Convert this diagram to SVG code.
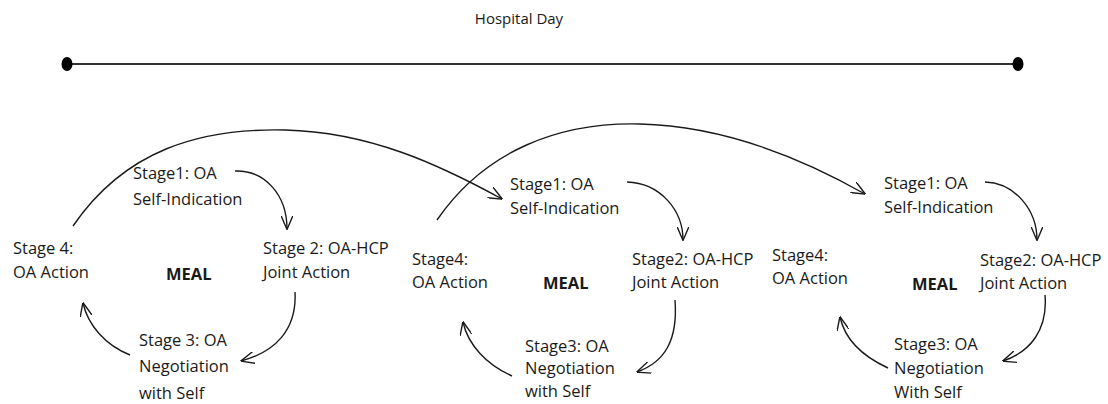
<svg xmlns="http://www.w3.org/2000/svg" width="1108" height="404" viewBox="0 0 1108 404">
  <style>
    text { font-family: "Open Sans", "Noto Sans", "Liberation Sans", sans-serif; fill: #1a1a1a; }
    .lbl { font-size: 16.5px; }
    .meal { font-size: 16.5px; font-weight: bold; }
    .title { font-size: 15px; }
    .conn { fill: none; stroke: #1a1a1a; stroke-width: 1.4; }
    .tl { stroke: #333; stroke-width: 2; }
  </style>
  <defs>
    <marker id="open" markerUnits="userSpaceOnUse" viewBox="0 0 14 12" refX="13.5" refY="6" markerWidth="14" markerHeight="12" orient="auto">
      <path d="M0,0 L14,6 L0,12" fill="none" stroke="#1a1a1a" stroke-width="1.4"/>
    </marker>
  </defs>
  <rect width="1108" height="404" fill="#ffffff"/>

  <!-- timeline -->
  <g id="timeline">
    <text class="title" x="519" y="24" text-anchor="middle">Hospital Day</text>
    <line class="tl" x1="67" y1="64" x2="1018" y2="64"/>
    <ellipse cx="67" cy="64" rx="5.5" ry="7" fill="#000"/>
    <ellipse cx="1018" cy="64" rx="5.5" ry="7" fill="#000"/>
  </g>

  <!-- connectors -->
  <g id="connectors" class="conn">
    <!-- meal 1 cycle -->
    <path d="M235,171 C265,170 287,195 287,229" marker-end="url(#open)"/>
    <path d="M295,292 C297,330 275,352 241,361" marker-end="url(#open)"/>
    <path d="M130,355 C105,345 88,325 83,303" marker-end="url(#open)"/>
    <!-- meal 2 cycle -->
    <path d="M627,182 C660,183 683,210 683,240" marker-end="url(#open)"/>
    <path d="M675,300 C678,340 665,362 637,372" marker-end="url(#open)"/>
    <path d="M512,376 C487,365 468,345 463,322" marker-end="url(#open)"/>
    <!-- meal 3 cycle -->
    <path d="M985,182 C1015,183 1037,210 1037,240" marker-end="url(#open)"/>
    <path d="M1045,295 C1048,330 1030,352 1003,361" marker-end="url(#open)"/>
    <path d="M888,368 C862,356 845,340 840,317" marker-end="url(#open)"/>
    <!-- links between meals -->
    <path d="M73,226 C125,150 200,128 285,130 C370,132 440,165 502,199" marker-end="url(#open)"/>
    <path d="M437,220 C485,150 560,122 640,124 C725,126 805,160 865,194" marker-end="url(#open)"/>
  </g>

  <!-- meal 1 -->
  <g id="m1-stage1"><text class="lbl"><tspan x="133" y="179">Stage1: OA</tspan><tspan x="133" y="205">Self-Indication</tspan></text></g>
  <g id="m1-stage2"><text class="lbl"><tspan x="263" y="254">Stage 2: OA-HCP</tspan><tspan x="263" y="278">Joint Action</tspan></text></g>
  <g id="m1-stage3"><text class="lbl"><tspan x="139" y="346">Stage 3: OA</tspan><tspan x="139" y="372">Negotiation</tspan><tspan x="139" y="399">with Self</tspan></text></g>
  <g id="m1-stage4"><text class="lbl"><tspan x="13" y="254">Stage 4:</tspan><tspan x="13" y="278">OA Action</tspan></text></g>
  <g id="m1-meal"><text class="meal" x="166" y="280">MEAL</text></g>

  <!-- meal 2 -->
  <g id="m2-stage1"><text class="lbl"><tspan x="510" y="190">Stage1: OA</tspan><tspan x="510" y="214">Self-Indication</tspan></text></g>
  <g id="m2-stage2"><text class="lbl"><tspan x="632" y="265">Stage2: OA-HCP</tspan><tspan x="632" y="288">Joint Action</tspan></text></g>
  <g id="m2-stage3"><text class="lbl"><tspan x="525" y="352">Stage3: OA</tspan><tspan x="525" y="374">Negotiation</tspan><tspan x="525" y="397">with Self</tspan></text></g>
  <g id="m2-stage4"><text class="lbl"><tspan x="412" y="265">Stage4:</tspan><tspan x="412" y="288">OA Action</tspan></text></g>
  <g id="m2-meal"><text class="meal" x="543" y="289">MEAL</text></g>

  <!-- meal 3 -->
  <g id="m3-stage1"><text class="lbl"><tspan x="884" y="189">Stage1: OA</tspan><tspan x="884" y="213">Self-Indication</tspan></text></g>
  <g id="m3-stage2"><text class="lbl"><tspan x="980" y="266">Stage2: OA-HCP</tspan><tspan x="980" y="289">Joint Action</tspan></text></g>
  <g id="m3-stage3"><text class="lbl"><tspan x="894" y="350">Stage3: OA</tspan><tspan x="894" y="374">Negotiation</tspan><tspan x="894" y="398">With Self</tspan></text></g>
  <g id="m3-stage4"><text class="lbl"><tspan x="772" y="261">Stage4:</tspan><tspan x="772" y="284">OA Action</tspan></text></g>
  <g id="m3-meal"><text class="meal" x="912" y="290">MEAL</text></g>
</svg>
